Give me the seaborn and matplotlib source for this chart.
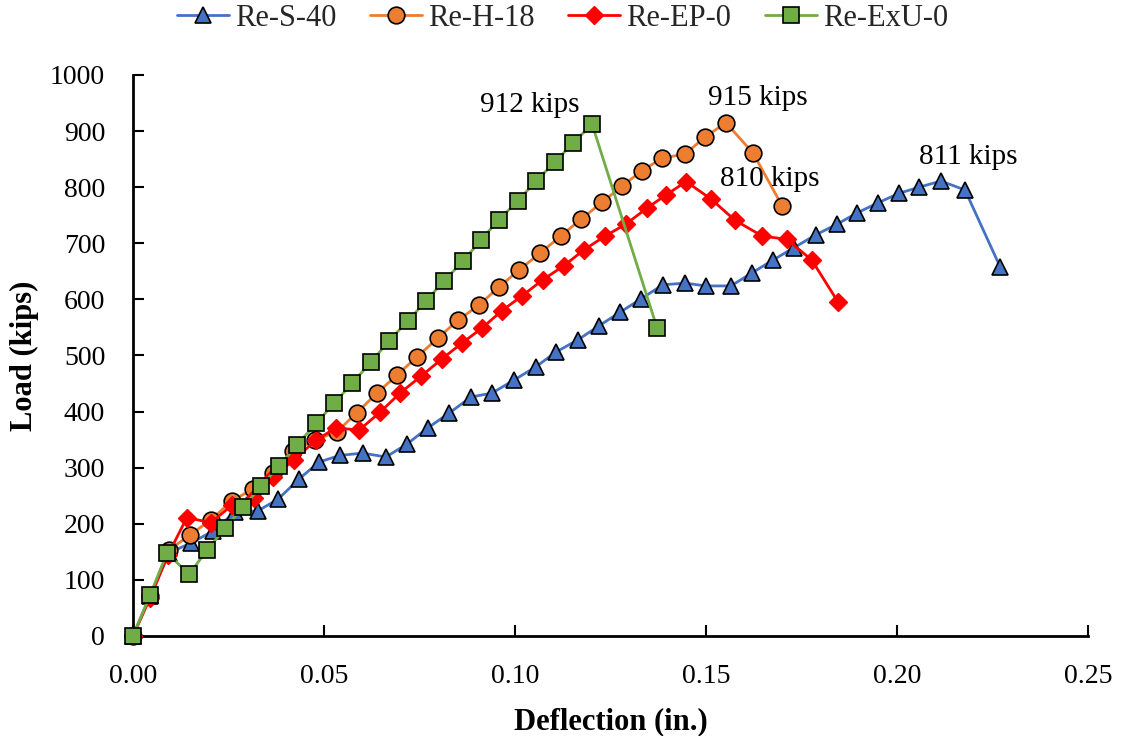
import matplotlib
matplotlib.use("Agg")
import matplotlib.pyplot as plt
import seaborn as sns
import pandas as pd

# Load-deflection data for the four specimens
s40_defl = [0, 0.0045, 0.0095, 0.0152, 0.021, 0.0267, 0.0327, 0.038, 0.0435, 0.0487,
            0.0542, 0.0602, 0.0662, 0.0717, 0.0772, 0.0827, 0.0885, 0.094, 0.0997, 0.1055,
            0.1107, 0.1165, 0.122, 0.1275, 0.133, 0.1387, 0.1445, 0.150, 0.1565, 0.162,
            0.1675, 0.173, 0.1787, 0.1843, 0.1895, 0.195, 0.2005, 0.2058, 0.2115, 0.2178, 0.227]
s40_load = [0, 72, 148, 166, 187, 221, 223, 244, 280, 310,
            322, 326, 319, 342, 371, 397, 426, 433, 456, 480,
            506, 528, 553, 577, 601, 626, 629, 624, 624, 647,
            670, 692, 715, 734, 754, 772, 789, 800, 811, 795, 658]

h18_defl = [0, 0.0045, 0.0094, 0.0149, 0.0204, 0.0259, 0.0314, 0.0367, 0.0419, 0.0476,
            0.0534, 0.0586, 0.0639, 0.0691, 0.0743, 0.0798, 0.0851, 0.0906, 0.0958, 0.101,
            0.1065, 0.112, 0.1173, 0.1228, 0.128, 0.1332, 0.1385, 0.1445, 0.1497, 0.1552,
            0.1623, 0.170]
h18_load = [0, 72, 153, 180, 207, 241, 262, 291, 330, 349,
            364, 398, 433, 465, 497, 531, 563, 590, 622, 652,
            682, 713, 743, 773, 802, 829, 852, 859, 889, 915,
            861, 766]

ep0_defl = [0, 0.0045, 0.0092, 0.0141, 0.0204, 0.0259, 0.0317, 0.0367, 0.0421, 0.0479,
            0.0531, 0.0592, 0.0647, 0.0699, 0.0754, 0.0809, 0.0861, 0.0914, 0.0966, 0.1018,
            0.1073, 0.1128, 0.118, 0.1236, 0.129, 0.1346, 0.1395, 0.1448, 0.1513, 0.1576,
            0.1647, 0.1712, 0.1777, 0.1846]
ep0_load = [0, 68, 145, 211, 202, 233, 246, 283, 314, 349,
            371, 367, 399, 433, 463, 494, 522, 549, 580, 606,
            635, 660, 688, 713, 734, 763, 786, 810, 779, 741,
            713, 707, 670, 595]

exu0_defl = [0, 0.0045, 0.0089, 0.0147, 0.0194, 0.0241, 0.0288, 0.0336, 0.0382, 0.0429,
             0.0479, 0.0527, 0.0574, 0.0623, 0.067, 0.072, 0.0767, 0.0814, 0.0864, 0.0911,
             0.0958, 0.1008, 0.1055, 0.1105, 0.1152, 0.1202, 0.1372]
exu0_load = [0, 73, 148, 110, 153, 192, 230, 267, 303, 340,
             379, 415, 451, 488, 526, 562, 597, 633, 668, 706,
             742, 776, 811, 845, 879, 912, 549]

series_names = ["Re-S-40", "Re-H-18", "Re-EP-0", "Re-ExU-0"]
peak_labels = ["811 kips", "915 kips", "810 kips", "912 kips"]
x_ticks = [0.00, 0.05, 0.10, 0.15, 0.20, 0.25]
y_ticks = [0, 100, 200, 300, 400, 500, 600, 700, 800, 900, 1000]

sns.set_theme(style="white")
plt.rcParams["font.family"] = ["Liberation Serif", "DejaVu Serif"]

fig = plt.figure(figsize=(11.25, 7.36), dpi=100)
ax = fig.add_axes([0.1182, 0.1359, 0.8489, 0.7622])

styles = [
    dict(color="#4472C4", marker="^", markersize=12, markerfacecolor="#4472C4",
         markeredgecolor="black", markeredgewidth=1.2),
    dict(color="#ED7D31", marker="o", markersize=12, markerfacecolor="#ED7D31",
         markeredgecolor="black", markeredgewidth=1.2),
    dict(color="#FF0000", marker="D", markersize=9, markerfacecolor="#FF0000",
         markeredgecolor="#FF0000", markeredgewidth=1.0),
    dict(color="#70AD47", marker="s", markersize=11.5, markerfacecolor="#70AD47",
         markeredgecolor="black", markeredgewidth=1.2),
]

data = [(s40_defl, s40_load), (h18_defl, h18_load), (ep0_defl, ep0_load), (exu0_defl, exu0_load)]
for name, (xs, ys), st in zip(series_names, data, styles):
    df = pd.DataFrame({"Deflection": xs, "Load": ys})
    sns.lineplot(data=df, x="Deflection", y="Load", ax=ax, label=name,
                 estimator=None, sort=False, linewidth=2.0, clip_on=False, zorder=3, **st)

# Peak load annotations
ann_pos = [(0.2186, 854), (0.1636, 959), (0.1668, 815), (0.1039, 946)]
for txt, (tx, ty) in zip(peak_labels, ann_pos):
    ax.text(tx, ty, txt, ha="center", va="center", fontsize=21, color="black")

ax.set_xlim(0, 0.25)
ax.set_ylim(0, 1000)
ax.set_xticks(x_ticks)
ax.set_xticklabels([f"{v:.2f}" for v in x_ticks])
ax.set_yticks(y_ticks)
ax.set_yticklabels([str(v) for v in y_ticks])
ax.tick_params(axis="both", direction="in", length=8, width=1.5, labelsize=20,
               colors="black", bottom=True, left=True)
ax.tick_params(axis="x", pad=20)
ax.tick_params(axis="y", pad=20)

for side in ["top", "right"]:
    ax.spines[side].set_visible(False)
for side in ["left", "bottom"]:
    ax.spines[side].set_color("black")
    ax.spines[side].set_linewidth(2.0)
    ax.spines[side].set_zorder(2)

ax.set_xlabel("Deflection (in.)", fontsize=22, fontweight="bold", color="black", labelpad=13)
ax.set_ylabel("Load (kips)", fontsize=22, fontweight="bold", color="black", labelpad=8)

ax.legend(loc="center", bbox_to_anchor=(0.5, 0.975), bbox_transform=fig.transFigure,
          ncol=4, frameon=False, fontsize=22, handlelength=1.7, handletextpad=0.2,
          columnspacing=1.1)

fig.savefig("out.png", dpi=100)
